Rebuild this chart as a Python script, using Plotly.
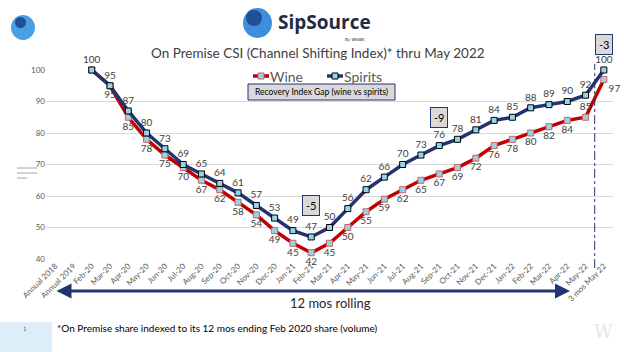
import plotly.graph_objects as go

categories = ["Annual 2018", "Annual 2019", "Feb-20", "Mar-20", "Apr-20", "May-20", "Jun-20",
              "Jul-20", "Aug-20", "Sep-20", "Oct-20", "Nov-20", "Dec-20", "Jan-21", "Feb-21",
              "Mar-21", "Apr-21", "May-21", "Jun-21", "Jul-21", "Aug-21", "Sep-21", "Oct-21",
              "Nov-21", "Dec-21", "Jan-22", "Feb-22", "Mar-22", "Apr-22", "May-22", "3 mos May 22"]

wine_values = [None, None, 100, 95, 85, 78, 73, 69, 65, 62, 58, 54, 49, 45, 42, 45, 50, 55, 59,
               62, 65, 67, 69, 72, 76, 78, 80, 82, 84, 85, 97]
wine_labels = ["", "", "", "95", "85", "78", "75", "70", "67", "62", "58", "54", "49", "45", "42",
               "45", "50", "55", "59", "62", "65", "67", "69", "72", "76", "78", "80", "82", "84",
               "85", "97"]
spirits_values = [None, None, 100, 95, 87, 80, 75, 70, 67, 64, 61, 57, 53, 49, 47, 50, 56, 62, 66,
                  70, 73, 76, 78, 81, 84, 85, 88, 89, 90, 92, 100]
spirits_labels = ["", "", "100", "95", "87", "80", "73", "69", "65", "64", "61", "57", "53", "49",
                  "47", "50", "56", "62", "66", "70", "73", "76", "78", "81", "84", "85", "88", "89",
                  "90", "92", "100"]

gap_labels = ["-5", "-9", "-3"]
gap_cats = ["Feb-21", "Sep-21", "3 mos May 22"]
gap_levels = [57, 85, 108]

y_ticks = [40, 50, 60, 70, 80, 90, 100]
Y_MIN, Y_MAX = 40, 100

FONT = "Lato, sans-serif"
NAVY = "#243371"
RED = "#c00000"
MARK = "#92d5ea"

W, H = 624, 352
L, R, T, B = 46, 11, 70, 93


def px(x):
    return (x - L) / (W - L - R)


def py(y):
    return (H - B - y) / (H - T - B)


def note(x, y, text, size, color="#404040", xanchor="center", family=FONT, **kw):
    return dict(x=px(x), y=py(y), xref="paper", yref="paper", text=text, showarrow=False,
                xanchor=xanchor, yanchor="middle",
                font=dict(family=family, size=size, color=color), **kw)


wine_pos = ["bottom center"] * len(categories)
wine_pos[-2] = "top center"
wine_pos[-1] = "bottom right"

fig = go.Figure()
fig.add_trace(go.Scatter(
    x=categories, y=wine_values, mode="lines+markers+text", name="Wine",
    text=wine_labels, textposition=wine_pos,
    textfont=dict(family=FONT, size=10, color="#404040"),
    line=dict(color=RED, width=3.5),
    marker=dict(symbol="square", size=6, color=MARK, line=dict(color="#d06060", width=1)),
    cliponaxis=False, showlegend=False))
fig.add_trace(go.Scatter(
    x=categories, y=spirits_values, mode="lines+markers+text", name="Spirits",
    text=spirits_labels, textposition="top center",
    textfont=dict(family=FONT, size=10, color="#404040"),
    line=dict(color=NAVY, width=3.5),
    marker=dict(symbol="square", size=6, color=MARK, line=dict(color="#000000", width=1)),
    cliponaxis=False, showlegend=False))

annotations = []
shapes = []

for lab, cat, lev in zip(gap_labels, gap_cats, gap_levels):
    annotations.append(dict(x=cat, y=(lev - Y_MIN) / (Y_MAX - Y_MIN), xref="x", yref="paper",
                            text=lab, showarrow=False, xanchor="center", yanchor="middle",
                            font=dict(family=FONT, size=11, color="#000000"),
                            bgcolor="#d9d9d9", bordercolor=NAVY, borderwidth=1, borderpad=3))

# title
annotations.append(note(318, 53, "On Premise CSI (Channel Shifting Index)* thru May 2022", 13.5))

# legend (manual)
for x0, name, col, lc in [(253, "Wine", RED, "#d06060"), (327, "Spirits", NAVY, "#000000")]:
    shapes.append(dict(type="line", xref="paper", yref="paper", x0=px(x0), x1=px(x0 + 16),
                       y0=py(76), y1=py(76), line=dict(color=col, width=3.5)))
    shapes.append(dict(type="rect", xref="paper", yref="paper", x0=px(x0 + 5), x1=px(x0 + 11),
                       y0=py(79), y1=py(73), fillcolor=MARK, line=dict(color=lc, width=1)))
    annotations.append(note(x0 + 15, 76, name, 14, color="#595959", xanchor="left"))

# recovery gap box
shapes.append(dict(type="rect", xref="paper", yref="paper", x0=px(248), x1=px(395),
                   y0=py(100), y1=py(84), fillcolor="#d9d9d9", line=dict(color=NAVY, width=1)))
annotations.append(note(321.5, 92, "Recovery Index Gap (wine vs spirits)", 8.5, color="#000000"))

# dashed separator line
shapes.append(dict(type="line", xref="x", yref="paper", x0=29.5, x1=29.5, y0=py(268), y1=py(64),
                   line=dict(color=NAVY, width=1, dash="dashdot")))

# 12 mos rolling arrow
annotations.append(dict(x=px(570), y=py(291), xref="paper", yref="paper", ax=-(570 - 55), ay=0,
                        axref="pixel", ayref="pixel", text="", showarrow=True, arrowhead=2,
                        arrowsize=1, arrowside="end+start", arrowwidth=3, arrowcolor=NAVY))
annotations.append(note(330, 303, "12 mos rolling", 13, color="#262626"))

# footer
shapes.append(dict(type="rect", xref="paper", yref="paper", x0=px(0), x1=px(52), y0=py(352),
                   y1=py(322), fillcolor="#ddeef8", line=dict(width=0), layer="below"))
annotations.append(note(25, 328, "1", 6, color="#595959"))
annotations.append(note(55, 328, "*On Premise share indexed to its 12 mos ending Feb 2020 share (volume)",
                        10, color="#000000", xanchor="left"))
annotations.append(note(603, 331, "W", 18, color="#e6e6e6", family="DejaVu Serif"))

# side decoration lines
for yy, x1 in [(168, 37), (173, 37), (178, 27)]:
    shapes.append(dict(type="line", xref="paper", yref="paper", x0=px(17), x1=px(x1),
                       y0=py(yy), y1=py(yy), line=dict(color="#a6a6a6", width=1)))

# logos
shapes.append(dict(type="circle", xref="paper", yref="paper", x0=px(11), x1=px(35), y0=py(40),
                   y1=py(15), fillcolor="#4b9fe3", line=dict(width=0)))
shapes.append(dict(type="circle", xref="paper", yref="paper", x0=px(15), x1=px(26), y0=py(28),
                   y1=py(17), fillcolor="#1f4f96", line=dict(width=0)))
shapes.append(dict(type="circle", xref="paper", yref="paper", x0=px(243), x1=px(272), y0=py(38),
                   y1=py(8), fillcolor="#3d8fdc", line=dict(width=0)))
shapes.append(dict(type="circle", xref="paper", yref="paper", x0=px(246), x1=px(262), y0=py(26),
                   y1=py(10), fillcolor="#1f4f96", line=dict(width=0)))
annotations.append(note(276, 22, "<b>SipSource</b>", 19, color="#1f2a44", xanchor="left",
                        family="Open Sans, sans-serif"))
annotations.append(note(367, 39, "By WSWA", 4, color="#1f2a44", xanchor="right",
                        family="DejaVu Sans"))

fig.update_layout(
    width=W, height=H, margin=dict(l=L, r=R, t=T, b=B),
    paper_bgcolor="white", plot_bgcolor="white",
    xaxis=dict(type="category", categoryorder="array", categoryarray=categories,
               range=[-0.5, 30.5], tickangle=-45, showgrid=False, showline=False, ticks="",
               tickfont=dict(family=FONT, size=8, color="#595959")),
    yaxis=dict(range=[Y_MIN, Y_MAX], tickvals=y_ticks, showgrid=True, gridcolor="#d9d9d9",
               gridwidth=1, zeroline=False, showline=False, ticks="",
               tickfont=dict(family=FONT, size=8, color="#595959")),
    annotations=annotations, shapes=shapes, showlegend=False,
)

fig.write_html("out.html")
